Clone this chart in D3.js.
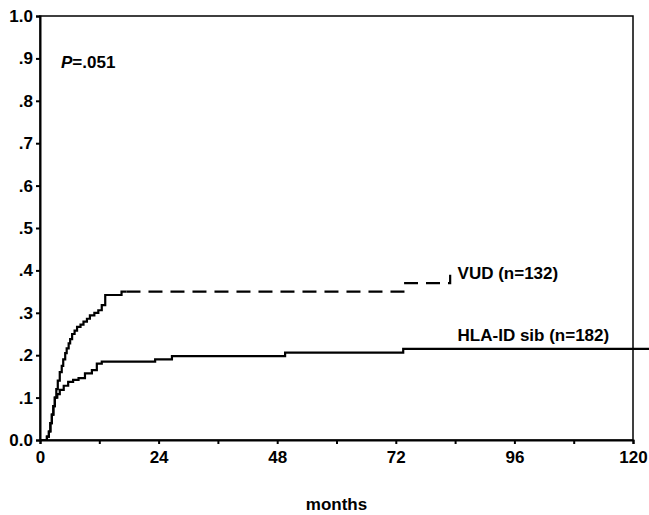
<!DOCTYPE html>
<html>
<head>
<meta charset="utf-8">
<script src="https://cdn.jsdelivr.net/npm/d3@7"></script>
<style>
  body { margin: 0; background: #fff; }
  svg { display: block; font-family: "Liberation Sans", Arial, sans-serif; font-weight: bold; }
</style>
</head>
<body>
<div id="chart"></div>
<script>
// cumulative incidence, step points (month, value)
const vudMonths = [0, 1.4, 1.8, 2.1, 2.4, 2.7, 3.0, 3.3, 3.6, 4.0, 4.4, 4.7, 5.1, 5.4, 5.8, 6.1, 6.5, 7.0, 7.5, 8.2, 8.8, 9.5, 10.1, 11.0, 11.8, 12.5, 13.2, 16.5, 17.5];
const vudValues = [0, 0.008, 0.02, 0.04, 0.06, 0.08, 0.10, 0.12, 0.14, 0.16, 0.175, 0.19, 0.205, 0.216, 0.228, 0.238, 0.25, 0.258, 0.267, 0.272, 0.279, 0.286, 0.294, 0.30, 0.306, 0.318, 0.342, 0.35, 0.35];
// later follow-up of VUD (dashed)
const vudLateMonths = [17.5, 73.9, 83.0, 83.0];
const vudLateValues = [0.35, 0.37, 0.39, 0.39];

const hlaMonths = [0, 1.4, 1.8, 2.1, 2.4, 2.7, 3.0, 3.5, 4.0, 4.8, 5.7, 6.7, 7.8, 9.1, 10.5, 11.5, 12.5, 23.3, 26.7, 49.6, 73.5, 123.5];
const hlaValues = [0, 0.008, 0.02, 0.04, 0.06, 0.08, 0.10, 0.108, 0.118, 0.128, 0.137, 0.142, 0.146, 0.157, 0.165, 0.18, 0.185, 0.19, 0.198, 0.206, 0.215, 0.215];

const yTicks = [0, 0.1, 0.2, 0.3, 0.4, 0.5, 0.6, 0.7, 0.8, 0.9, 1.0];
const xTicks = [0, 12, 24, 36, 48, 60, 72, 84, 96, 108, 120];
const xLabels = [0, 24, 48, 72, 96, 120];

const labels = [
  { text: "VUD (n=132)", month: 84.5, value: 0.38 },
  { text: "HLA-ID sib (n=182)", month: 84.5, value: 0.233 }
];

const width = 649, height = 515;
const fontSize = 17;
const x = d3.scaleLinear().domain([0, 120]).range([40, 633]);
const y = d3.scaleLinear().domain([0, 1]).range([440, 16]);

const svg = d3.select("#chart").append("svg")
  .attr("width", width)
  .attr("height", height);

// frame
svg.append("rect")
  .attr("x", x(0)).attr("y", y(1))
  .attr("width", x(120) - x(0)).attr("height", y(0) - y(1))
  .attr("fill", "none").attr("stroke", "#000").attr("stroke-width", 1.5);

const yAxis = svg.append("g")
  .attr("transform", `translate(${x(0)},0)`)
  .call(d3.axisLeft(y).tickValues(yTicks).tickSize(4).tickPadding(3)
    .tickFormat(d => d === 0 ? "0.0" : d === 1 ? "1.0" : d3.format(".1f")(d).replace(/^0/, "")));

const xAxis = svg.append("g")
  .attr("transform", `translate(0,${y(0)})`)
  .call(d3.axisBottom(x).tickValues(xTicks).tickSize(4).tickPadding(7)
    .tickFormat(d => xLabels.includes(d) ? d : ""));

for (const ax of [xAxis, yAxis]) {
  ax.select(".domain").attr("stroke-width", 2);
  ax.selectAll(".tick line").attr("stroke-width", 2);
  ax.selectAll("text").attr("font-size", fontSize).attr("font-weight", "bold").attr("fill", "#000")
    .attr("font-family", "'Liberation Sans', Arial, sans-serif");
}

const line = d3.line()
  .curve(d3.curveStepAfter)
  .x(d => x(d[0]))
  .y(d => y(d[1]));

const curves = svg.append("g")
  .attr("fill", "none")
  .attr("stroke", "#000")
  .attr("stroke-width", 2.2);

curves.append("path").attr("d", line(d3.zip(hlaMonths, hlaValues)));
curves.append("path").attr("d", line(d3.zip(vudMonths, vudValues)));
curves.append("path")
  .attr("d", line(d3.zip(vudLateMonths, vudLateValues)))
  .attr("stroke-dasharray", "14,8");

svg.append("g").selectAll("text")
  .data(labels)
  .join("text")
  .attr("x", d => x(d.month))
  .attr("y", d => y(d.value))
  .attr("font-size", fontSize)
  .text(d => d.text);

const p = svg.append("text")
  .attr("x", 61).attr("y", 68)
  .attr("font-size", fontSize);
p.append("tspan").attr("font-style", "italic").text("P");
p.append("tspan").text("=.051");

svg.append("text")
  .attr("x", (x(0) + x(120)) / 2)
  .attr("y", 510)
  .attr("text-anchor", "middle")
  .attr("font-size", fontSize)
  .text("months");
</script>
</body>
</html>
